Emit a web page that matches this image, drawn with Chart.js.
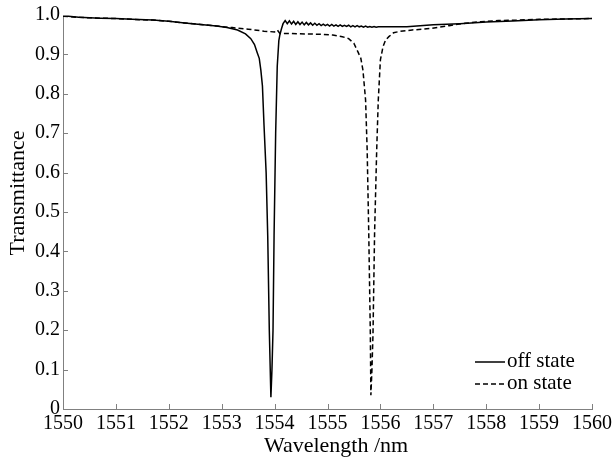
<!DOCTYPE html>
<html>
<head>
<meta charset="utf-8">
<script src="https://cdn.jsdelivr.net/npm/chart.js@4.4.1/dist/chart.umd.min.js"></script>
<style>
  html, body { margin: 0; padding: 0; background: #fff; }
  #wrap { width: 615px; height: 461px; }
</style>
</head>
<body>
<div id="wrap"><canvas id="chart"></canvas></div>
<script>
const xTicks = [1550, 1551, 1552, 1553, 1554, 1555, 1556, 1557, 1558, 1559, 1560];
const yTicks = [0, 0.1, 0.2, 0.3, 0.4, 0.5, 0.6, 0.7, 0.8, 0.9, 1.0];
const xTitle = "Wavelength /nm";
const yTitle = "Transmittance";

// off state (solid)
const offX = [1550, 1550.3, 1550.7, 1551, 1551.3, 1551.7, 1552, 1552.3, 1552.6, 1552.9, 1553.1, 1553.3,
  1553.45, 1553.55, 1553.62, 1553.67, 1553.71, 1553.74, 1553.77, 1553.8, 1553.84, 1553.87, 1553.9, 1553.93,
  1553.95, 1553.97, 1553.99, 1554.02, 1554.05, 1554.08, 1554.1, 1554.13, 1554.16,
  1554.20, 1554.24, 1554.28, 1554.32, 1554.36, 1554.40, 1554.44, 1554.48, 1554.52, 1554.56, 1554.60, 1554.64,
  1554.68, 1554.72, 1554.76, 1554.80, 1554.84, 1554.88, 1554.92, 1554.96, 1555.00, 1555.04, 1555.08, 1555.12,
  1555.16, 1555.20, 1555.24, 1555.28, 1555.32, 1555.36, 1555.40, 1555.44, 1555.48, 1555.52, 1555.56, 1555.60,
  1555.64, 1555.68, 1555.72, 1555.76, 1555.80, 1555.84, 1555.88, 1555.92, 1555.96, 1556.00,
  1556.5, 1557, 1557.5, 1558, 1558.5, 1559, 1559.5, 1560];
const offY = [0.998, 0.994, 0.992, 0.991, 0.989, 0.987, 0.984, 0.980, 0.976, 0.972, 0.968, 0.962,
  0.952, 0.940, 0.925, 0.905, 0.890, 0.860, 0.820, 0.720, 0.600, 0.440, 0.200, 0.030,
  0.100, 0.200, 0.440, 0.700, 0.870, 0.935, 0.950, 0.965, 0.978,
  0.986, 0.978, 0.985, 0.977, 0.984, 0.976, 0.983, 0.976, 0.982, 0.975, 0.981, 0.975,
  0.980, 0.974, 0.979, 0.974, 0.978, 0.973, 0.977, 0.973, 0.976, 0.972, 0.976, 0.972,
  0.975, 0.971, 0.975, 0.971, 0.974, 0.971, 0.974, 0.970, 0.973, 0.970, 0.973, 0.970,
  0.972, 0.969, 0.972, 0.969, 0.971, 0.969, 0.971, 0.969, 0.970, 0.970,
  0.970, 0.975, 0.978, 0.982, 0.985, 0.988, 0.990, 0.991];

// on state (dashed)
const onX = [1550, 1550.3, 1550.7, 1551, 1551.3, 1551.7, 1552, 1552.3, 1552.6, 1552.9, 1553.2, 1553.5,
  1553.8, 1554.0, 1554.05, 1554.1, 1554.3, 1554.6, 1554.9, 1555.1, 1555.28, 1555.4, 1555.5, 1555.58,
  1555.63, 1555.67, 1555.72, 1555.75, 1555.78, 1555.81, 1555.82, 1555.84, 1555.86, 1555.89, 1555.93, 1555.96,
  1556.0, 1556.05, 1556.1, 1556.16, 1556.25, 1556.35, 1556.6, 1556.97, 1557.3, 1557.6, 1557.9, 1558.23,
  1558.6, 1559, 1559.5, 1560];
const onY = [0.997, 0.994, 0.992, 0.991, 0.989, 0.987, 0.984, 0.980, 0.976, 0.972, 0.968, 0.964,
  0.959, 0.957, 0.962, 0.953, 0.953, 0.952, 0.951, 0.949, 0.945, 0.940, 0.928, 0.905,
  0.890, 0.860, 0.784, 0.657, 0.446, 0.190, 0.035, 0.100, 0.190, 0.446, 0.657, 0.784,
  0.886, 0.920, 0.937, 0.945, 0.955, 0.958, 0.962, 0.966, 0.973, 0.979, 0.983, 0.986,
  0.987, 0.989, 0.990, 0.991];

const seriesNames = ["off state", "on state"];

function toPoints(xs, ys) {
  return xs.map((x, i) => ({ x: x, y: ys[i] }));
}

const serif = "'Liberation Serif', 'DejaVu Serif', serif";
const axisColor = "#808080";

// inward tick marks, axis titles and the legend drawn inside the plot
const decorPlugin = {
  id: "decor",
  afterDraw(chart) {
    const c = chart.ctx;
    const area = chart.chartArea;
    const xs = chart.scales.x;
    const ys = chart.scales.y;
    c.save();
    c.strokeStyle = axisColor;
    c.lineWidth = 1;
    c.beginPath();
    xTicks.forEach(v => {
      const px = Math.round(xs.getPixelForValue(v)) + 0.5;
      c.moveTo(px, area.bottom);
      c.lineTo(px, area.bottom - 5);
    });
    yTicks.forEach(v => {
      const py = Math.round(ys.getPixelForValue(v)) + 0.5;
      c.moveTo(area.left, py);
      c.lineTo(area.left + 5, py);
    });
    c.stroke();

    // axis titles
    c.fillStyle = "#000";
    c.font = "22px " + serif;
    c.textAlign = "center";
    c.textBaseline = "alphabetic";
    c.fillText(xTitle, 336, 452);
    c.save();
    c.translate(24, 193);
    c.rotate(-Math.PI / 2);
    c.fillText(yTitle, 0, 0);
    c.restore();

    // legend
    const lx = area.right - 117;
    const rows = [area.bottom - 47, area.bottom - 25];
    c.font = "21px " + serif;
    c.textAlign = "left";
    c.textBaseline = "middle";
    chart.data.datasets.forEach((ds, i) => {
      c.strokeStyle = "#000";
      c.lineWidth = 1.5;
      c.setLineDash(ds.borderDash || []);
      c.beginPath();
      c.moveTo(lx, rows[i]);
      c.lineTo(lx + 30, rows[i]);
      c.stroke();
      c.setLineDash([]);
      c.fillText(ds.label, lx + 32, rows[i] - 1);
    });
    c.restore();
  }
};

new Chart(document.getElementById("chart"), {
  type: "line",
  data: {
    datasets: [
      {
        label: seriesNames[0],
        data: toPoints(offX, offY),
        borderColor: "#000",
        borderWidth: 1.5,
        pointRadius: 0,
        tension: 0
      },
      {
        label: seriesNames[1],
        data: toPoints(onX, onY),
        borderColor: "#000",
        borderWidth: 1.5,
        borderDash: [5, 3],
        pointRadius: 0,
        tension: 0
      }
    ]
  },
  options: {
    responsive: true,
    maintainAspectRatio: false,
    animation: false,
    layout: { padding: { top: 15, right: 20, left: 0, bottom: 0 } },
    plugins: {
      legend: { display: false },
      tooltip: { enabled: false }
    },
    scales: {
      x: {
        type: "linear",
        min: 1550,
        max: 1560,
        afterBuildTicks: s => { s.ticks = xTicks.map(v => ({ value: v })); },
        afterFit: s => { s.height = 52; },
        grid: { drawOnChartArea: false, drawTicks: false },
        border: { display: true, color: axisColor, width: 1 },
        ticks: {
          padding: 3,
          color: "#000",
          maxRotation: 0,
          font: { family: serif, size: 20 },
          callback: v => String(v)
        }
      },
      y: {
        min: 0,
        max: 1.0,
        afterBuildTicks: s => { s.ticks = yTicks.map(v => ({ value: v })); },
        afterFit: s => { s.width = 63; },
        grid: { drawOnChartArea: false, drawTicks: false },
        border: { display: true, color: axisColor, width: 1 },
        ticks: {
          padding: 3,
          color: "#000",
          font: { family: serif, size: 20 },
          callback: v => (v === 0 ? "0" : v.toFixed(1))
        }
      }
    }
  },
  plugins: [decorPlugin]
});
</script>
</body>
</html>
